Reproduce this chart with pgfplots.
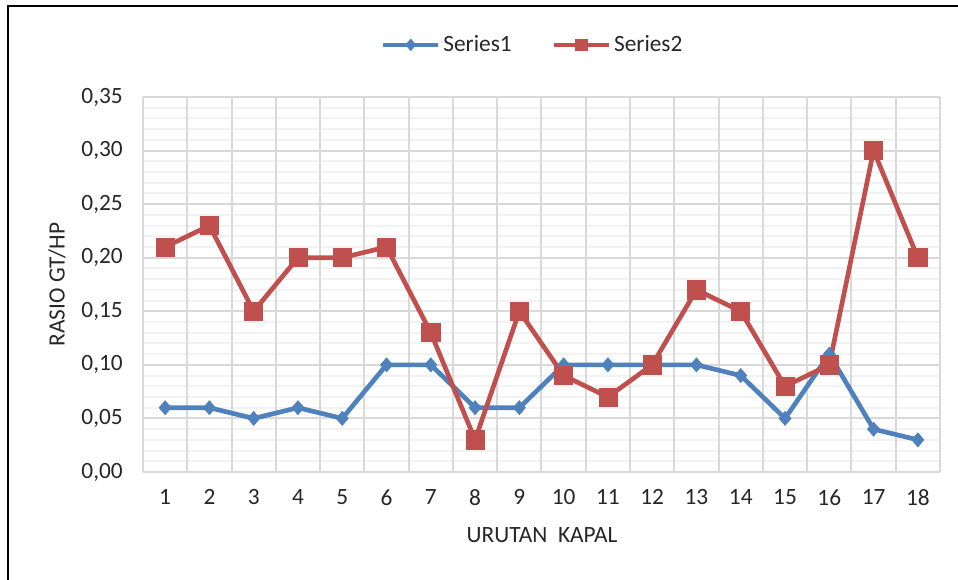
\documentclass[border=0pt]{standalone}
\usepackage{pgfplots}
\pgfplotsset{compat=1.18}
\usepackage{fontspec}
\setmainfont{Carlito}
\definecolor{sblue}{HTML}{4F81BD}
\definecolor{sred}{HTML}{C0504D}
\definecolor{gmaj}{HTML}{D9D9D9}
\definecolor{gmin}{HTML}{F2F2F2}
\definecolor{txt}{HTML}{262626}
\begin{document}
\begin{tikzpicture}
\useasboundingbox (-107.25pt,-81pt) rectangle (611.25pt,354pt);
\draw[line width=2pt] (-101.25pt,-81pt) -- (-101.25pt,349.5pt) -- (611.25pt,349.5pt);
\begin{axis}[
  at={(0pt,0pt)}, anchor=south west, scale only axis,
  width=597.75pt, height=281.25pt,
  xmin=0.5, xmax=18.5, ymin=0, ymax=0.35,
  xtick={1,...,18},
  ytick={0,0.05,0.1,0.15,0.2,0.25,0.3,0.35},
  minor y tick num=4,
  ymajorgrids=true, yminorgrids=true,
  major grid style={draw=gmaj, line width=1.5pt},
  minor grid style={draw=gmin, line width=1.5pt},
  extra x ticks={0.5,1.5,...,18.5},
  extra x tick labels={},
  extra x tick style={xmajorgrids=true, major grid style={draw=gmaj, line width=1.5pt}},
  axis line style={draw=none},
  major tick length=0pt, minor tick length=0pt,
  tick style={draw=none},
  /pgf/number format/assume math mode=true,
  ticklabel style={font=\fontsize{17.5}{20}\selectfont, text=txt},
  yticklabel style={inner sep=0pt, anchor=east, xshift=-15pt,
    /pgf/number format/.cd, fixed, fixed zerofill, precision=2, use comma},
  xticklabel style={inner sep=0pt, anchor=north, yshift=-13pt},
  xlabel={URUTAN\ \ KAPAL},
  ylabel={RASIO GT/HP},
  label style={font=\fontsize{17.5}{20}\selectfont, text=txt},
  xlabel style={at={(axis description cs:0.5006,-0.168)}, anchor=center},
  ylabel style={at={(axis description cs:-0.1079,0.5)}, anchor=center},
  legend columns=2,
  legend style={draw=none, fill=none, at={(axis description cs:0.4894,1.139)}, anchor=center,
    font=\fontsize{17.5}{20}\selectfont, text=txt,
    /tikz/every even column/.append style={column sep=28pt},
    nodes={inner xsep=2pt, inner ysep=1pt}},
  legend image code/.code={\draw[#1, mark size=4.3pt, mark repeat=2, mark phase=2] plot coordinates {(0pt,0pt) (20.6pt,0pt) (41.25pt,0pt)};},
]
\addplot[color=sblue, line width=3.5pt, mark=diamond*, mark size=5.25pt,
  mark options={solid, line width=0.5pt, fill=sblue, xscale=1.15}]
  coordinates {(1,0.06) (2,0.06) (3,0.05) (4,0.06) (5,0.05) (6,0.10) (7,0.10) (8,0.06) (9,0.06)
  (10,0.10) (11,0.10) (12,0.10) (13,0.10) (14,0.09) (15,0.05) (16,0.11) (17,0.04) (18,0.03)};
\addlegendentry{Series1}
\addplot[color=sred, line width=3.5pt, mark=square*, mark size=6.8pt,
  mark options={solid, line width=0.5pt, fill=sred}]
  coordinates {(1,0.21) (2,0.23) (3,0.15) (4,0.20) (5,0.20) (6,0.21) (7,0.13) (8,0.03) (9,0.15)
  (10,0.09) (11,0.07) (12,0.10) (13,0.17) (14,0.15) (15,0.08) (16,0.10) (17,0.30) (18,0.20)};
\addlegendentry{Series2}
\end{axis}
\end{tikzpicture}
\end{document}
